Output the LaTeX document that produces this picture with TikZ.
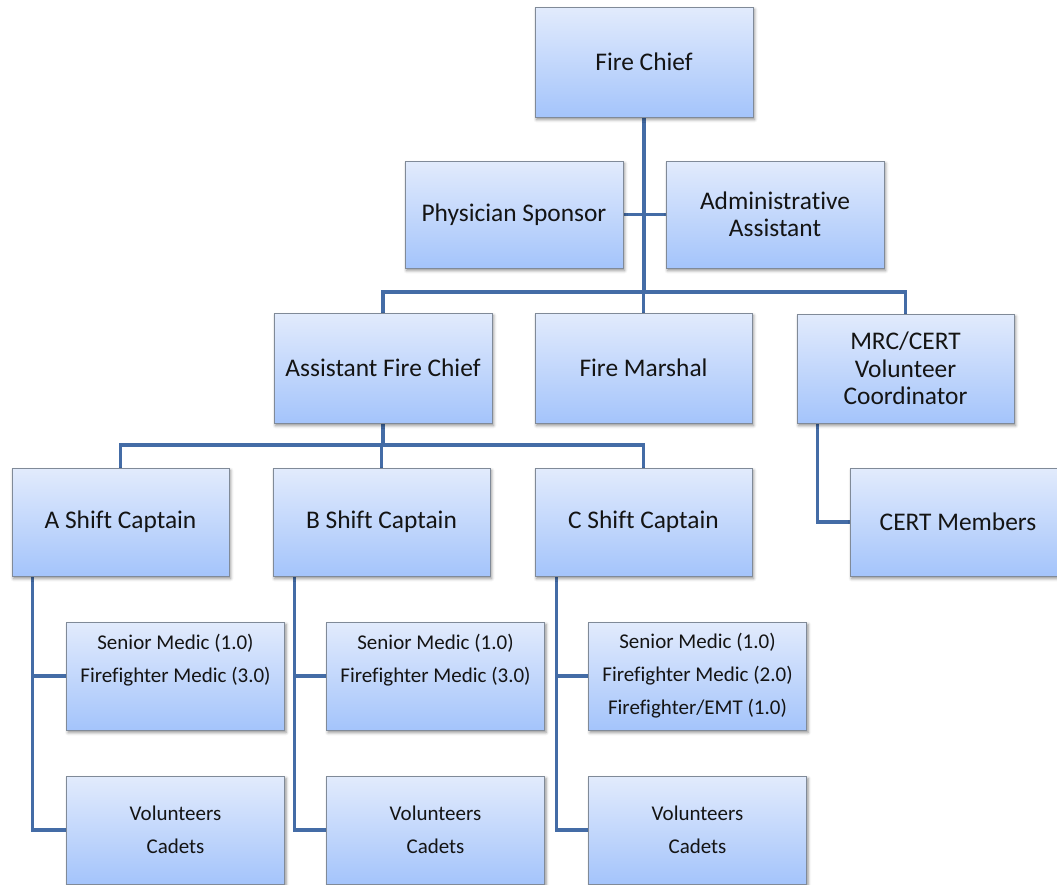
\documentclass[tikz,border=0pt]{standalone}
\usepackage{fontspec}
\setmainfont{Carlito}[Ligatures=NoCommon]
\usetikzlibrary{shadows.blur,backgrounds,calc}

\definecolor{boxtop}{RGB}{226,235,252}
\definecolor{boxbot}{RGB}{164,196,251}
\definecolor{boxline}{RGB}{128,138,152}
\definecolor{linkblue}{RGB}{68,108,166}
\definecolor{ink}{RGB}{20,20,20}

\tikzset{
  orgbox/.style={
    rectangle, draw=boxline, line width=1pt,
    top color=boxtop, bottom color=boxbot,
    blur shadow={shadow xshift=1.5pt, shadow yshift=-2.5pt,
                 shadow blur radius=3pt, shadow opacity=45},
    inner sep=0pt, align=center, text=ink
  },
  bigbox/.style={orgbox, font=\fontsize{25.4}{27.5}\selectfont},
  smallbox/.style={orgbox, font=\fontsize{21}{33}\selectfont,
                   minimum width=218pt, minimum height=108pt},
  link/.style={draw=linkblue, line width=3.8pt}
}

\begin{document}
\begin{tikzpicture}[x=1pt, y=-1pt]
\useasboundingbox (0,0) rectangle (1057,884);

% top of the chart
\node[bigbox, minimum width=218pt, minimum height=110pt] (chief) at (644,62) {Fire Chief};
\node[bigbox, minimum width=218pt, minimum height=107pt] (phys) at (514,214.5) {Physician Sponsor};
\node[bigbox, minimum width=218pt, minimum height=107pt] (admin) at (775,214.5) {Administrative\\Assistant};

% second tier
\node[bigbox, minimum width=218pt, minimum height=110pt] (afc) at (383,368) {Assistant Fire Chief};
\node[bigbox, minimum width=217pt, minimum height=110pt] (marshal) at (643.5,368) {Fire Marshal};
\node[bigbox, minimum width=217pt, minimum height=109pt] (mrc) at (905.5,368.5) {MRC/CERT\\Volunteer\\Coordinator};

% shift captains and CERT
\node[bigbox, minimum width=217pt, minimum height=108pt] (capA) at (120.5,522) {A Shift Captain};
\node[bigbox, minimum width=217pt, minimum height=108pt] (capB) at (381.5,522) {B Shift Captain};
\node[bigbox, minimum width=217pt, minimum height=108pt] (capC) at (643.5,522) {C Shift Captain};
\node[bigbox, minimum width=216pt, minimum height=108pt] (cert) at (958,522) {CERT Members};

% crews
\node[smallbox] (medA) at (175.5,676) {Senior Medic (1.0)\\Firefighter Medic (3.0)\\\vphantom{(}};
\node[smallbox] (medB) at (435.5,676) {Senior Medic (1.0)\\Firefighter Medic (3.0)\\\vphantom{(}};
\node[smallbox] (medC) at (697.5,676) {Senior Medic (1.0)\\Firefighter Medic (2.0)\\Firefighter/EMT (1.0)};

\node[smallbox] (volA) at (175.5,830) {Volunteers\\Cadets};
\node[smallbox] (volB) at (435.5,830) {Volunteers\\Cadets};
\node[smallbox] (volC) at (697.5,830) {Volunteers\\Cadets};

% connectors
\begin{scope}[on background layer]
  \coordinate (bus1) at (0,292);
  \coordinate (bus2) at (0,445);

  \draw[link] (chief.south) -- (chief.south |- bus1);
  \draw[link] (phys.east) -- (admin.west);
  \draw[link] (afc.north) -- (afc.north |- bus1) -- (mrc.north |- bus1) -- (mrc.north);
  \draw[link] (marshal.north) -- (marshal.north |- bus1);

  \draw[link] (afc.south) -- (afc.south |- bus2);
  \draw[link] (capA.north) -- (capA.north |- bus2) -- (capC.north |- bus2) -- (capC.north);
  \draw[link] (capB.north) -- (capB.north |- bus2);

  \draw[link] ($(mrc.south west)+(21,0)$) |- (cert.west);

  \draw[link] ($(capA.south west)+(21,0)$) coordinate (spA) |- (volA.west);
  \draw[link] (spA |- medA.west) -- (medA.west);
  \draw[link] ($(capB.south west)+(22,0)$) coordinate (spB) |- (volB.west);
  \draw[link] (spB |- medB.west) -- (medB.west);
  \draw[link] ($(capC.south west)+(22,0)$) coordinate (spC) |- (volC.west);
  \draw[link] (spC |- medC.west) -- (medC.west);
\end{scope}
\end{tikzpicture}
\end{document}
